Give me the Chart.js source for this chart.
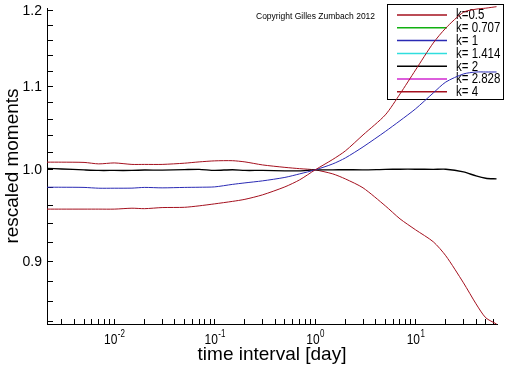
<!DOCTYPE html>
<html><head><meta charset="utf-8">
<script src="https://cdn.jsdelivr.net/npm/chart.js@4/dist/chart.umd.min.js"></script>
<style>html,body{margin:0;padding:0;background:#fff}</style>
</head><body>
<canvas id="c" width="512" height="366"></canvas>
<script>
// time interval in days (x axis, log)
const timeDays = [0.00214, 0.003, 0.005, 0.007, 0.01, 0.015, 0.02, 0.03, 0.05, 0.07, 0.1, 0.15, 0.2, 0.3, 0.5, 0.7, 1, 1.5, 2, 3, 5, 7, 10, 15, 20, 30, 40, 50, 64];
const kLabels = ['k=0.5', 'k= 0.707', 'k= 1', 'k= 1.414', 'k= 2', 'k= 2.828', 'k= 4'];
const kColors = ['#a4101e', '#10b010', '#2a2ab4', '#30dede', '#000000', '#d028d0', '#a4101e'];
const k05 = [0.956, 0.956, 0.956, 0.956, 0.956, 0.957, 0.9565, 0.9577, 0.958, 0.9596, 0.9618, 0.9645, 0.9668, 0.9718, 0.9807, 0.9886, 1.0, 1.0121, 1.022, 1.0409, 1.0651, 1.091, 1.1214, 1.1566, 1.1766, 1.1982, 1.2024, 1.2038, 1.2058];
const k0707 = [];
const k1 = [0.9803, 0.9803, 0.9801, 0.9792, 0.9792, 0.9793, 0.9801, 0.9796, 0.9801, 0.9803, 0.9807, 0.9835, 0.9852, 0.9875, 0.9914, 0.9954, 1.0, 1.0069, 1.0138, 1.0267, 1.045, 1.058, 1.0725, 1.0922, 1.106, 1.1163, 1.1188, 1.1188, 1.1188];
const k1414 = [];
const k2 = [1.0017, 1.0011, 1.0, 0.9994, 0.9994, 0.9994, 0.9998, 0.9997, 1.0003, 1.0006, 0.9994, 1.0002, 0.9994, 0.9994, 0.9989, 0.9989, 1.0, 1.0, 1.0002, 1.0, 1.0006, 1.0008, 1.0008, 1.0006, 1.0008, 0.9977, 0.9931, 0.9905, 0.9897];
const k2828 = [];
const k4 = [1.0089, 1.0089, 1.0086, 1.0069, 1.008, 1.0063, 1.0063, 1.0063, 1.0077, 1.0092, 1.0104, 1.0106, 1.0092, 1.0057, 1.0029, 1.0014, 1.0, 0.9954, 0.9897, 0.9796, 0.9596, 0.9454, 0.9336, 0.9209, 0.9062, 0.8785, 0.8576, 0.844, 0.838];
const seriesValues = [k05, k0707, k1, k1414, k2, k2828, k4];
// tick labels
const xTickValues = [0.01, 0.1, 1, 10];
const xTickBase = ['10', '10', '10', '10'];
const xTickExp = ['-2', '-1', '0', '1'];
const yTickValues = [0.9, 1.0, 1.1, 1.2];
const yTickLabels = ['0.9', '1.0', '1.1', '1.2'];

const FONT = '"Liberation Sans", Arial, sans-serif';

const datasets = seriesValues.map((vals, i) => ({
  label: kLabels[i],
  data: vals.map((v, j) => ({x: timeDays[j], y: v})),
  borderColor: kColors[i],
  backgroundColor: kColors[i],
  borderWidth: i === 4 ? 1.4 : 1,
  pointRadius: 0,
  tension: 0.25,
  fill: false,
  clip: false
}));

function narrowText(ctx, text, x, y, sx) {
  ctx.save();
  ctx.translate(x, y);
  ctx.scale(sx, 1);
  ctx.fillText(text, 0, 0);
  ctx.restore();
  return ctx.measureText(text).width * sx;
}

const extras = {
  id: 'extras',
  beforeDatasetsDraw(chart) {
    const ctx = chart.ctx;
    ctx.save();
    ctx.strokeStyle = '#000';
    ctx.lineWidth = 1;
    ctx.strokeRect(387.5, 4.5, 116, 95);
    ctx.font = '14px ' + FONT;
    ctx.textBaseline = 'middle';
    ctx.textAlign = 'left';
    chart.data.datasets.forEach((ds, i) => {
      const y = 15 + i * 12.8;
      ctx.strokeStyle = ds.borderColor;
      ctx.lineWidth = 1.5;
      ctx.beginPath(); ctx.moveTo(397, y); ctx.lineTo(447, y); ctx.stroke();
      ctx.fillStyle = '#000';
      narrowText(ctx, ds.label, 456, y + 0.5, 0.82);
    });
    ctx.restore();
  },
  afterDraw(chart) {
    const ctx = chart.ctx;
    ctx.save();
    ctx.font = '8.5px ' + FONT;
    ctx.fillStyle = '#000';
    ctx.textBaseline = 'alphabetic';
    ctx.fillText('Copyright Gilles Zumbach 2012', 256, 19);
    // x tick labels with superscript exponents
    const xs = chart.scales.x;
    const sx = 0.8;
    xTickValues.forEach((v, i) => {
      const px = xs.getPixelForValue(v);
      ctx.font = '15px ' + FONT;
      const wb = ctx.measureText(xTickBase[i]).width * sx;
      ctx.font = '10px ' + FONT;
      const we = ctx.measureText(xTickExp[i]).width * sx;
      const left = px - (wb + we) / 2;
      ctx.font = '15px ' + FONT;
      narrowText(ctx, xTickBase[i], left, 344, sx);
      ctx.font = '10px ' + FONT;
      narrowText(ctx, xTickExp[i], left + wb + 0.5, 337, sx);
    });
    ctx.restore();
  }
};

function buildXTicks(scale) {
  const t = [];
  for (let e = -3; e <= 1; e++) {
    for (let m = 1; m <= 9; m++) {
      const v = m * Math.pow(10, e);
      if (v >= scale.min * 0.9999 && v <= scale.max * 1.0001) t.push({value: v, major: m === 1});
    }
  }
  scale.ticks = t;
}
function buildYTicks(scale) {
  const t = [];
  for (let i = 84; i <= 120; i += 2) t.push({value: i / 100});
  scale.ticks = t;
}
function labelFor(values, labels, v) {
  for (let i = 0; i < values.length; i++) if (Math.abs(values[i] - v) < 1e-9 * Math.max(1, values[i])) return labels[i];
  return '';
}

new Chart(document.getElementById('c'), {
  type: 'line',
  data: {datasets},
  plugins: [extras],
  options: {
    responsive: false,
    animation: false,
    devicePixelRatio: 1,
    layout: {padding: {left: 0, right: 15, top: 8, bottom: 0}},
    plugins: {legend: {display: false}, tooltip: {enabled: false}},
    scales: {
      x: {
        type: 'logarithmic',
        min: 0.00214,
        max: 64.7,
        afterBuildTicks: buildXTicks,
        afterFit(s) { s.height = 42; s.paddingLeft = 0; s.paddingRight = 0; },
        border: {display: true, color: '#000', width: 1},
        grid: {display: true, drawOnChartArea: false, drawTicks: true, tickLength: -5, color: '#000', tickColor: '#000'},
        ticks: {
          autoSkip: false, maxRotation: 0, padding: 9, color: '#000',
          font: {family: FONT, size: 14},
          callback() { return ''; }
        },
        title: {display: true, text: 'time interval [day]', color: '#000', padding: {top: 0, bottom: 0},
          font: {family: FONT, size: 19}}
      },
      y: {
        type: 'logarithmic',
        min: 0.838,
        max: 1.204,
        afterBuildTicks: buildYTicks,
        afterFit(s) { s.width = 47; s.paddingTop = 0; s.paddingBottom = 0; },
        border: {display: true, color: '#000', width: 1},
        grid: {display: true, drawOnChartArea: false, drawTicks: true, tickLength: -6, color: '#000', tickColor: '#000'},
        ticks: {
          autoSkip: false, padding: 11, color: '#000',
          font: {family: FONT, size: 14},
          callback(v) { return labelFor(yTickValues, yTickLabels, v); }
        },
        title: {display: true, text: 'rescaled moments', color: '#000', padding: {top: 1, bottom: 0},
          font: {family: FONT, size: 19}}
      }
    }
  }
});
</script>
</body></html>
